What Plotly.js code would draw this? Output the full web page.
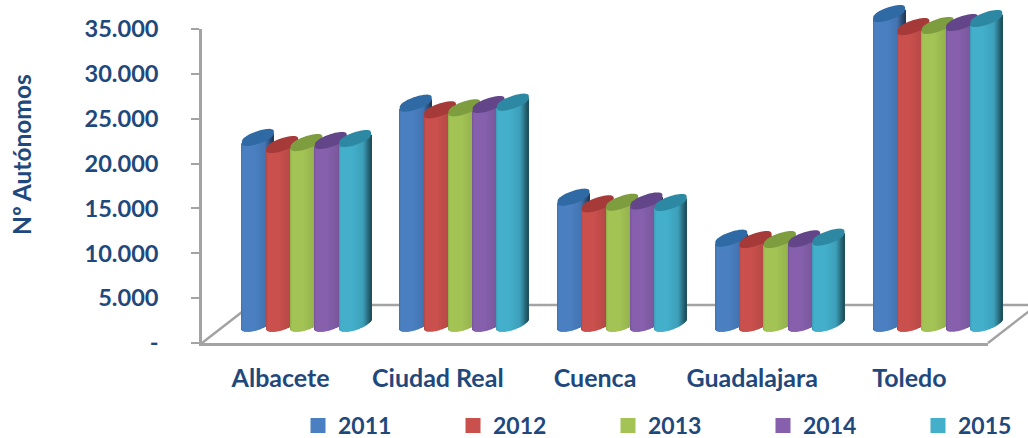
<!DOCTYPE html>
<html><head><meta charset="utf-8">
<script src="https://cdn.plot.ly/plotly-3.0.1.min.js"></script>
<style>html,body{margin:0;padding:0;background:#fff}#c{width:1028px;height:438px}</style></head>
<body><div id="c"></div>
<script>
const categories = ["Albacete","Ciudad Real","Cuenca","Guadalajara","Toledo"];
const years = ["2011","2012","2013","2014","2015"];
const v2011 = [20850,24670,14190,9620,34660];
const v2012 = [20060,23930,13450,9470,33210];
const v2013 = [20280,24150,13630,9470,33330];
const v2014 = [20510,24520,13770,9550,33660];
const v2015 = [20730,24780,13600,9730,34110];
const seriesValues = [v2011,v2012,v2013,v2014,v2015];
const yTickVals = [0,5000,10000,15000,20000,25000,30000,35000];
const yTickText = ["-","5.000","10.000","15.000","20.000","25.000","30.000","35.000"];
const bodyColors = ["#4a80c2","#c9504d","#a3c455","#8660ac","#43afcb"];
const capColors  = ["#2f6aa5","#a63a38","#7e9d3f","#634589","#2d89a3"];

const W=1028,H=438, navy="#1f497d", gray="#a3a3a3", font="Lato, 'Open Sans', sans-serif";
const fx=p=>p/W, fy=p=>1-p/H;
const ax0=202, ax1=988, ay0=343, ay1=29;
const bx0=224, bx1=1013, by0=329, byLow=345;
const pxPerCat=(bx1-bx0)/5, unitPerPx=35000/(ay0-ay1);
const cylW=32, pitch=24.3, rise=10, bBody=6, bCap=6, nStrip=32;
const legendLeft=[298,453,608,763,918];

function shade(hex,k){
  const n=parseInt(hex.slice(1),16);
  const c=[n>>16,(n>>8)&255,n&255].map(v=>Math.round(Math.min(255,v*k)));
  return `rgb(${c[0]},${c[1]},${c[2]})`;
}
function gloss(t){
  if(t<0.06) return 0.88+t*2;
  if(t<0.4) return 1;
  if(t<0.75) return 1-(t-0.4)*0.25;
  return 0.91-(t-0.75)*1.9;
}
const arc=(t,b)=>(rise*t-b*Math.sqrt(Math.max(0,1-Math.pow(2*t-1,2))))*unitPerPx;
const xStart=(c,s)=>c+(-61+s*pitch)/pxPerCat;

const data=[{x:[0,1,2,3,4],y:[null,null,null,null,null],type:"scatter",mode:"markers",
  xaxis:"x",yaxis:"y",showlegend:false,hoverinfo:"skip"}];
const shapes=[];
[[251,305,1037,305],[ax0,ay0,251,305],[988,343,1037,305]].forEach(l=>{
  shapes.push({type:"line",xref:"paper",yref:"paper",x0:fx(l[0]),y0:fy(l[1]),x1:fx(l[2]),y1:fy(l[3]),
    layer:"below",line:{color:gray,width:2.5}});
});

const legendFont={family:font,size:23,color:navy,weight:700};
const legends={};
seriesValues.forEach((vals,s)=>{
  // first (empty) point only sets the legend key's colour and size
  const xs=[null],ys=[null],bases=[0],cols=[bodyColors[s]],lws=[3];
  vals.forEach((v,c)=>{
    for(let k=0;k<nStrip;k++){
      const t=(k+0.5)/nStrip;
      xs.push(xStart(c,s)+t*cylW/pxPerCat);
      ys.push(v); bases.push(arc(t,bBody));
      cols.push(shade(bodyColors[s],gloss(t)));
      lws.push(0);
    }
    let d="";
    for(let i=0;i<=48;i++){
      const a=i/48*2*Math.PI, t=(1-Math.cos(a))/2, up=Math.sin(a)>=0?1:-1;
      const px=xStart(c,s)+t*cylW/pxPerCat;
      const py=v+(rise*t+up*bCap*Math.pow(Math.abs(Math.sin(a)),0.8)-(up<0?1:0))*unitPerPx;
      d+=(i?"L":"M")+px.toFixed(4)+","+py.toFixed(1);
    }
    shapes.push({type:"path",xref:"x2",yref:"y2",path:d+"Z",fillcolor:capColors[s],line:{width:0},layer:"above"});
  });
  const lname=s?("legend"+(s+1)):"legend";
  legends[lname]={orientation:"h",x:fx(legendLeft[s]),xanchor:"left",y:fy(404),yanchor:"top",
    itemwidth:30,bgcolor:"rgba(0,0,0,0)",font:legendFont};
  data.push({type:"bar",name:years[s],legend:lname,x:xs,y:ys,base:bases,width:1/pxPerCat,
    xaxis:"x2",yaxis:"y2",hoverinfo:"skip",
    marker:{color:cols,line:{width:lws,color:bodyColors[s]}}});
});

const layout=Object.assign({
  width:W,height:H,margin:{l:0,r:0,t:0,b:0,autoexpand:false},paper_bgcolor:"#fff",plot_bgcolor:"rgba(0,0,0,0)",
  font:{family:font,color:navy,size:23,weight:700},
  barmode:"overlay",showlegend:true,
  xaxis:{domain:[fx(ax0),fx(ax1)],range:[-0.5,4.5],type:"linear",tickmode:"array",tickvals:[0,1,2,3,4],ticktext:categories,
    showgrid:false,zeroline:false,showline:true,linecolor:gray,linewidth:2.5,ticks:"",anchor:"y",
    tickfont:{family:font,size:25,color:navy,weight:700},ticklabelstandoff:11,fixedrange:true},
  yaxis:{domain:[fy(ay0),fy(ay1)],range:[0,35000],tickmode:"array",tickvals:yTickVals,ticktext:yTickText,
    showgrid:false,zeroline:false,showline:true,linecolor:gray,linewidth:2.5,ticks:"outside",ticklen:8,tickwidth:2,tickcolor:gray,anchor:"x",
    tickfont:{family:font,size:23.6,color:navy,weight:700},ticklabelstandoff:28,fixedrange:true},
  xaxis2:{domain:[fx(bx0),fx(bx1)],range:[-0.5,4.5],visible:false,anchor:"y2",fixedrange:true},
  yaxis2:{domain:[fy(byLow),1],range:[(by0-byLow)*unitPerPx,by0*unitPerPx],visible:false,anchor:"x2",fixedrange:true},
  shapes:shapes,
  annotations:[{text:"Nº Autónomos",xref:"paper",yref:"paper",x:fx(21),y:fy(155),textangle:-90,showarrow:false,
    xanchor:"center",yanchor:"middle",font:{family:font,size:24.5,color:navy,weight:700}}]
},legends);
Plotly.newPlot("c",data,layout,{displayModeBar:false});
</script></body></html>
